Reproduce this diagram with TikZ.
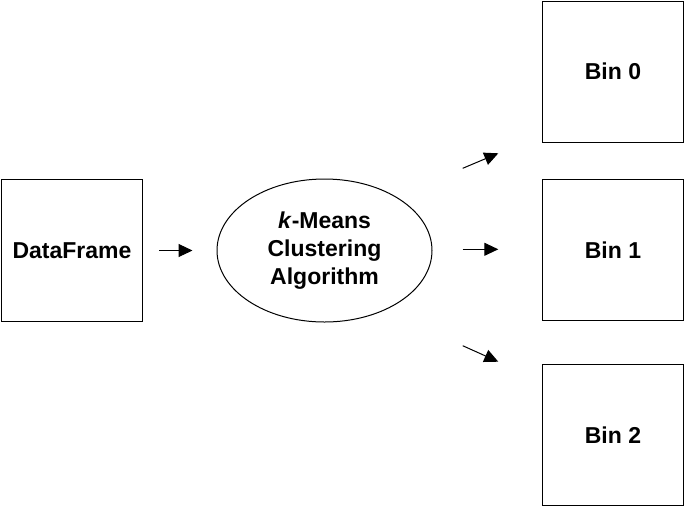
\documentclass[tikz,border=0pt]{standalone}
\usepackage{fontspec}
\setmainfont{Liberation Sans}
\usetikzlibrary{shapes.geometric,arrows.meta}

\begin{document}
\begin{tikzpicture}[x= 1pt, y= -1pt, line width= 1pt,
	box/.style= {draw, rectangle, minimum width= 141pt, minimum height= 141pt, inner sep= 0pt, font= \fontsize{23}{27.6}\selectfont\bfseries},
	algo/.style= {draw, ellipse, minimum width= 215pt, minimum height= 143pt, inner sep= 0pt, align= center, font= \fontsize{23}{27.6}\selectfont\bfseries},
	arr/.style= {-{Triangle[length= 14pt, width= 13pt]}}]
	\useasboundingbox (0, 0) rectangle (685, 507);

	\node[box, minimum height= 142pt](df) at (72, 250.5) {DataFrame}; %入力
	\node[algo](alg) at (324.5, 250.5) {\textit{k}-Means\\Clustering\\Algorithm}; %アルゴリズム
	\node[box](bin0) at (613, 71.5) {Bin 0}; %出力
	\node[box](bin1) at (613, 250) {Bin 1};
	\node[box](bin2) at (613, 435) {Bin 2};

	\coordinate (s0) at (462.7, 168.3); %矢印の始点
	\coordinate (e0) at (498.3, 153.3); %矢印の終点
	\coordinate (s1) at (462.7, 249.3);
	\coordinate (e1) at (498.3, 249.3);
	\coordinate (s2) at (462.7, 345.7);
	\coordinate (e2) at (498.3, 361.7);

	\draw[arr, shorten <= 16pt, shorten >= 24pt](df.east)-- (alg.west); %DataFrame- アルゴリズム
	\draw[arr](s0)-- (e0);
	\draw[arr](s1)-- (e1);
	\draw[arr](s2)-- (e2);
\end{tikzpicture}
\end{document}
